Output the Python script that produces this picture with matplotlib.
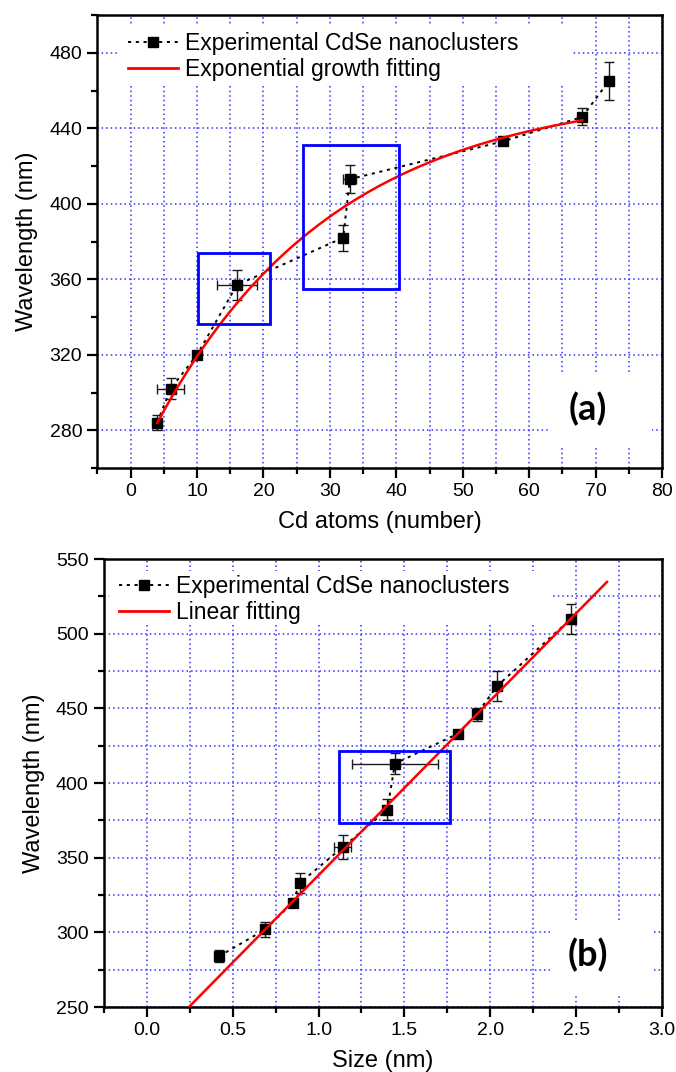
import numpy as np
import matplotlib
matplotlib.use("Agg")
import matplotlib.pyplot as plt
from matplotlib.patches import Rectangle
from matplotlib.lines import Line2D
from matplotlib.ticker import MultipleLocator, FormatStrFormatter

plt.rcParams['font.family'] = ['Liberation Sans', 'DejaVu Sans']

# ---- panel (a): absorption wavelength vs number of Cd atoms ----
cd_atoms = [4, 6, 10, 16, 32, 33, 56, 68, 72]
cd_wavelength = [284, 302, 320, 357, 382, 413, 433, 446, 465]
cd_xerr = [0, 2, 0, 3, 0, 1, 0, 0, 0]
cd_yerr = [4, 5.5, 1.5, 8, 7, 7.5, 2, 4.5, 10]

# exponential growth fit  y = y0 - A * exp(-x / t)
exp_y0, exp_a, exp_t = 460.7, 205.0, 27.0
exp_range = (4, 68)

# highlighted regions (x0, x1, y0, y1)
boxes_a = [(10.2, 21.0, 336.4, 374.0), (26.0, 40.4, 355.0, 431.3)]

# ---- panel (b): absorption wavelength vs cluster size ----
size_nm = [0.42, 0.69, 0.85, 0.89, 1.14, 1.40, 1.445, 1.81, 1.92, 2.04, 2.47]
size_wavelength = [284, 302, 320, 333, 357, 382, 413, 433, 446, 465, 510]
size_xerr = [0.02, 0.02, 0, 0, 0.05, 0, 0.25, 0, 0, 0, 0]
size_yerr = [4, 5, 1.5, 6.5, 8, 7, 7, 2, 4.5, 10, 10]

# linear fit  y = m * x + c
lin_slope, lin_intercept = 116.9, 221.4
lin_range = (0.2, 2.68)

boxes_b = [(1.12, 1.765, 373.4, 421.6)]

GRID_COLOR = '#3030ff'
GRID_STYLE = (0, (1, 2))
DOT_STYLE = (0, (1.6, 2.4))

fig = plt.figure(figsize=(6.76, 10.72), dpi=100)
ax1 = fig.add_axes([0.1442, 0.5634, 0.835, 0.4226])
ax2 = fig.add_axes([0.1538, 0.0606, 0.8254, 0.4179])


def style_axes(ax):
    for s in ax.spines.values():
        s.set_linewidth(1.8)
        s.set_color('black')
    ax.tick_params(which='both', direction='out', top=False, right=False,
                   labelsize=14, width=1.6, color='black', pad=4)
    ax.tick_params(which='major', length=7)
    ax.tick_params(which='minor', length=4)
    ax.set_axisbelow(True)


def draw_series(ax, x, y, xerr, yerr):
    ax.errorbar(x, y, xerr=xerr, yerr=yerr, fmt='none', ecolor='#1a1a1a',
                elinewidth=1.0, capsize=3.6, capthick=1.0, zorder=4)
    ax.plot(x, y, color='black', linestyle=DOT_STYLE, linewidth=1.4,
            marker='s', markersize=7.5, markerfacecolor='black',
            markeredgecolor='black', zorder=5)


def white_box(ax, x0, x1, y0, y1):
    ax.add_patch(Rectangle((x0, y0), x1 - x0, y1 - y0, transform=ax.transAxes,
                           facecolor='white', edgecolor='none', zorder=1.5))


def legend(ax, fit_label, anchor):
    handles = [
        Line2D([], [], color='black', linestyle=DOT_STYLE, linewidth=1.4,
               marker='s', markersize=7.5),
        Line2D([], [], color='red', linewidth=2.0),
    ]
    ax.legend(handles, ['Experimental CdSe nanoclusters', fit_label],
              loc='center left', bbox_to_anchor=anchor, frameon=False,
              fontsize=16.5, handlelength=2.2, handletextpad=0.3,
              labelspacing=0.12, borderpad=0, borderaxespad=0)


# ---------------- panel (a) ----------------
style_axes(ax1)
ax1.set_xlim(-5, 80)
ax1.set_ylim(260, 500)
ax1.xaxis.set_major_locator(MultipleLocator(10))
ax1.xaxis.set_minor_locator(MultipleLocator(5))
ax1.yaxis.set_major_locator(MultipleLocator(40))
ax1.yaxis.set_minor_locator(MultipleLocator(20))
ax1.grid(True, which='both', axis='x', color=GRID_COLOR, linestyle=GRID_STYLE, linewidth=1.1)
ax1.grid(True, which='major', axis='y', color=GRID_COLOR, linestyle=GRID_STYLE, linewidth=1.1)

white_box(ax1, 0.034, 0.841, 0.85, 0.978)
white_box(ax1, 0.80, 0.982, 0.044, 0.21)

xf = np.linspace(exp_range[0], exp_range[1], 300)
ax1.plot(xf, exp_y0 - exp_a * np.exp(-xf / exp_t), color='red', linewidth=1.8, zorder=6)
draw_series(ax1, cd_atoms, cd_wavelength, cd_xerr, cd_yerr)

for x0, x1, y0, y1 in boxes_a:
    ax1.add_patch(Rectangle((x0, y0), x1 - x0, y1 - y0, fill=False,
                            edgecolor='#0000ff', linewidth=2.0, zorder=7))

legend(ax1, 'Exponential growth fitting', (0.054, 0.909))
ax1.text(0.869, 0.13, '(a)', transform=ax1.transAxes, ha='center', va='center',
         fontsize=26, fontweight='bold', family=['Lato', 'DejaVu Sans'], zorder=8)
ax1.set_xlabel('Cd atoms (number)', fontsize=17, labelpad=8)
ax1.set_ylabel('Wavelength (nm)', fontsize=17, labelpad=8)

# ---------------- panel (b) ----------------
style_axes(ax2)
ax2.set_xlim(-0.25, 3.0)
ax2.set_ylim(250, 550)
ax2.xaxis.set_major_locator(MultipleLocator(0.5))
ax2.xaxis.set_minor_locator(MultipleLocator(0.25))
ax2.yaxis.set_major_locator(MultipleLocator(50))
ax2.yaxis.set_minor_locator(MultipleLocator(25))
ax2.xaxis.set_major_formatter(FormatStrFormatter('%.1f'))
ax2.grid(True, which='both', color=GRID_COLOR, linestyle=GRID_STYLE, linewidth=1.1)

white_box(ax2, 0.009, 0.805, 0.855, 0.973)
white_box(ax2, 0.80, 0.982, 0.029, 0.19)

xl = np.linspace(lin_range[0], lin_range[1], 50)
ax2.plot(xl, lin_slope * xl + lin_intercept, color='red', linewidth=1.8, zorder=6)
draw_series(ax2, size_nm, size_wavelength, size_xerr, size_yerr)

for x0, x1, y0, y1 in boxes_b:
    ax2.add_patch(Rectangle((x0, y0), x1 - x0, y1 - y0, fill=False,
                            edgecolor='#0000ff', linewidth=2.0, zorder=7))

legend(ax2, 'Linear fitting', (0.027, 0.9096))
ax2.text(0.867, 0.115, '(b)', transform=ax2.transAxes, ha='center', va='center',
         fontsize=26, fontweight='bold', family=['Lato', 'DejaVu Sans'], zorder=8)
ax2.set_xlabel('Size (nm)', fontsize=17, labelpad=8)
ax2.set_ylabel('Wavelength (nm)', fontsize=17, labelpad=8)

fig.savefig('out.png', dpi=100)
